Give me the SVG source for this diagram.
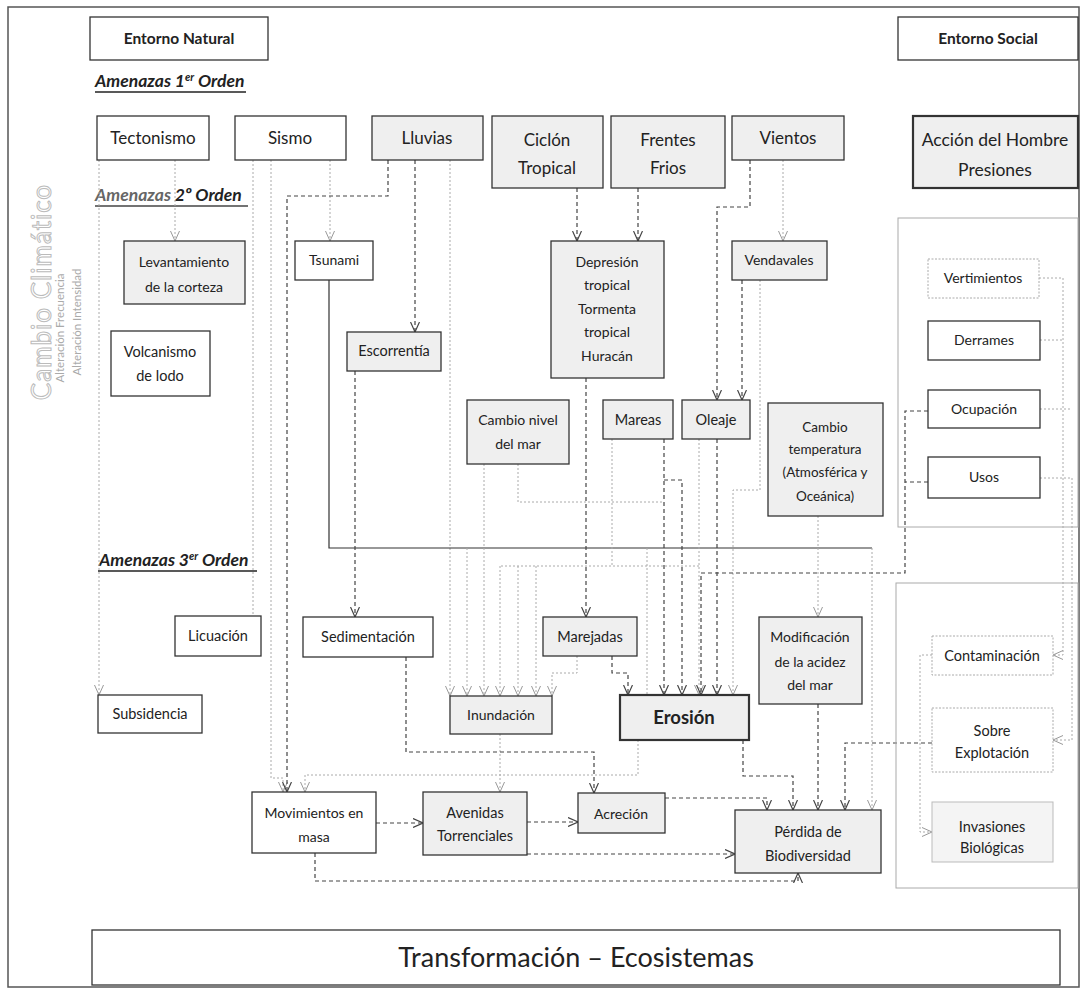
<svg xmlns="http://www.w3.org/2000/svg" width="1086" height="992" viewBox="0 0 1086 992">
<style>
text{font-family:"Lato","Open Sans",sans-serif;fill:#222;text-anchor:middle}
.bx{fill:#fff;stroke:#333;stroke-width:1.3}
.g{fill:#efefef;stroke:#333;stroke-width:1.3}
.th{stroke-width:2.2}
.lt{fill:#fff;stroke:#aaa;stroke-width:1;stroke-dasharray:2 1.5}
.grp{fill:none;stroke:#aaa;stroke-width:1}
.d{fill:none;stroke:#444;stroke-width:1.2;stroke-dasharray:4 3}
.l{fill:none;stroke:#aaa;stroke-width:1;stroke-dasharray:2 2}
.s{fill:none;stroke:#333;stroke-width:1.2}
.ad{marker-end:url(#md)}
.al{marker-end:url(#ml)}
.hd{font-weight:bold;font-style:italic;font-size:17.5px;text-anchor:start}
.t17{font-size:17px}.t15{font-size:14.5px}.t14{font-size:14px}.t13{font-size:13.5px}
</style>
<defs>
<marker id="md" viewBox="0 0 10 10" refX="10" refY="5" markerWidth="10" markerHeight="10" markerUnits="userSpaceOnUse" orient="auto"><path d="M0,0.5 L10,5 L0,9.5" fill="none" stroke="#444" stroke-width="1.2"/></marker>
<marker id="ml" viewBox="0 0 10 10" refX="10" refY="5" markerWidth="10" markerHeight="10" markerUnits="userSpaceOnUse" orient="auto"><path d="M0,0.5 L10,5 L0,9.5" fill="none" stroke="#999" stroke-width="1"/></marker>
</defs>
<rect x="0" y="0" width="1086" height="992" fill="#fff"/>
<rect x="8" y="7" width="1071" height="980" fill="none" stroke="#555" stroke-width="1.5"/>

<g id="cambio-climatico">
<text transform="translate(51,292) rotate(-90)" style="font-size:26px;fill:#fff;stroke:#bbb;stroke-width:1;letter-spacing:1px">Cambio Climático</text>
<text transform="translate(64,328) rotate(-90)" style="font-size:11.5px;fill:#aaa">Alteración Frecuencia</text>
<text transform="translate(81,322) rotate(-90)" style="font-size:11.5px;fill:#aaa">Alteración Intensidad</text>
</g>

<g id="headings">
<text class="hd" x="95" y="87">Amenazas 1<tspan font-size="11" dy="-6">er</tspan><tspan dy="6"> Orden</tspan></text>
<line x1="95" y1="92" x2="246" y2="92" stroke="#222" stroke-width="1.3"/>
<text class="hd" x="95" y="201"><tspan fill="#666">Amenazas</tspan>  2º Orden</text>
<line x1="95" y1="206" x2="248" y2="206" stroke="#444" stroke-width="1.3"/>
<text class="hd" x="99" y="566">Amenazas  3<tspan font-size="11" dy="-6">er</tspan><tspan dy="6"> Orden</tspan></text>
<line x1="98" y1="571" x2="257" y2="571" stroke="#222" stroke-width="1.3"/>
</g>

<g id="connectors">
<path class="l al" d="M99,160 V695"/>
<path class="l al" d="M175,160 V241"/>
<path class="l" d="M253,160 V616"/>
<path class="l al" d="M271,160 V778 H283 V792"/>
<path class="l al" d="M330,160 V241"/>
<path class="d ad" d="M388,160 V196 H287 V792"/>
<path class="d ad" d="M415,160 V332"/>
<path class="l al" d="M450,160 V696"/>
<path class="d ad" d="M577,188 V241"/>
<path class="d ad" d="M638,188 V241"/>
<path class="l al" d="M783,160 V241"/>
<path class="d ad" d="M750,160 V207 H717 V400"/>
<path class="d ad" d="M742,280 V400"/>
<path class="l al" d="M760,280 V490 H733 V695"/>
<path class="s" d="M329,280 V548 H872"/>
<path class="l al" d="M872,548 V810"/>
<path class="l al" d="M467,548 V696"/>
<path class="l" d="M647,548 V695"/>
<path class="d ad" d="M355,371 V617"/>
<path class="d ad" d="M586,378 V617"/>
<path class="l al" d="M484,464 V696"/>
<path class="l" d="M518,464 V502 H664"/>
<path class="d ad" d="M664,439 V695"/>
<path class="d ad" d="M664,480 H682 V695"/>
<path class="l" d="M612,439 V566"/>
<path class="l" d="M699,566 H500"/>
<path class="l al" d="M500,566 V696"/>
<path class="l al" d="M518,566 V696"/>
<path class="l al" d="M536,566 V696"/>
<path class="l al" d="M699,439 V695"/>
<path class="d ad" d="M717,439 V695"/>
<path class="l al" d="M818,516 V617"/>
<path class="d ad" d="M928,411 H905 V573 H701 V695"/>
<path class="d" d="M928,482 H905"/>
<path class="l al" d="M577,656 V673 H552 V696"/>
<path class="d ad" d="M612,656 V673 H628 V695"/>
<path class="l al" d="M500,734 V792"/>
<path class="l al" d="M638,740 V775 H305 V792"/>
<path class="d ad" d="M406,657 V752 H594 V793"/>
<path class="d ad" d="M376,823 H423"/>
<path class="d ad" d="M527,822 H578"/>
<path class="d ad" d="M527,854 H735"/>
<path class="d ad" d="M665,798 H767 V810"/>
<path class="d ad" d="M315,853 V881 H798 V873"/>
<path class="d ad" d="M743,740 V776 H793 V810"/>
<path class="d ad" d="M818,704 V810"/>
<path class="d ad" d="M932,743 H845 V810"/>
<path class="l al" d="M1039,278 H1063 V655 H1053"/>
<path class="l" d="M1040,340 H1063"/>
<path class="l" d="M1040,409 H1072"/>
<path class="l al" d="M1040,478 H1072 V740 H1053"/>
<path class="l al" d="M932,655 H920 V832 H932"/>
</g>

<g id="entorno-natural"><rect class="bx" x="90" y="17" width="178" height="43"/><text x="179" y="44" style="font-size:15.5px;font-weight:bold">Entorno  Natural</text></g>
<g id="entorno-social"><rect class="bx" x="898" y="17" width="180" height="43"/><text x="988" y="44" style="font-size:15.5px;font-weight:bold">Entorno Social</text></g>
<g id="tectonismo"><rect class="bx" x="97" y="116" width="112" height="44"/><text class="t17" x="153" y="144">Tectonismo</text></g>
<g id="sismo"><rect class="bx" x="235" y="116" width="111" height="44"/><text class="t17" x="290" y="144">Sismo</text></g>
<g id="lluvias"><rect class="g" x="372" y="116" width="111" height="44"/><text class="t17" x="427" y="144">Lluvias</text></g>
<g id="ciclon"><rect class="g" x="492" y="116" width="111" height="72"/><text class="t17" x="547" y="146">Ciclón</text><text class="t17" x="547" y="174">Tropical</text></g>
<g id="frentes"><rect class="g" x="611" y="116" width="114" height="72"/><text class="t17" x="668" y="146">Frentes</text><text class="t17" x="668" y="174">Frios</text></g>
<g id="vientos"><rect class="g" x="732" y="116" width="112" height="44"/><text class="t17" x="788" y="144">Vientos</text></g>
<g id="accion-hombre"><rect class="g th" x="913" y="116" width="165" height="72"/><text x="995" y="146" style="font-size:17.5px">Acción del Hombre</text><text x="995" y="176" style="font-size:17.5px">Presiones</text></g>
<g id="levantamiento"><rect class="g" x="124" y="241" width="121" height="63"/><text class="t14" x="184" y="267">Levantamiento</text><text class="t14" x="184" y="292">de la corteza</text></g>
<g id="tsunami"><rect class="bx" x="295" y="241" width="78" height="39"/><text class="t14" x="334" y="265">Tsunami</text></g>
<g id="volcanismo"><rect class="bx" x="111" y="331" width="99" height="65"/><text class="t15" x="160" y="357">Volcanismo</text><text class="t15" x="160" y="381">de lodo</text></g>
<g id="escorrentia"><rect class="g" x="347" y="332" width="94" height="39"/><text class="t15" x="394" y="356">Escorrentía</text></g>
<g id="depresion"><rect class="g" x="551" y="241" width="113" height="137"/><text class="t14" x="607" y="267">Depresión</text><text class="t14" x="607" y="290">tropical</text><text class="t14" x="607" y="314">Tormenta</text><text class="t14" x="607" y="337">tropical</text><text class="t14" x="607" y="361">Huracán</text></g>
<g id="vendavales"><rect class="g" x="732" y="241" width="95" height="39"/><text class="t14" x="779" y="265">Vendavales</text></g>
<g id="presiones-grupo"><rect class="grp" x="898" y="218" width="180" height="309"/></g>
<g id="vertimientos"><rect class="lt" x="928" y="259" width="111" height="39"/><text class="t14" x="983" y="283">Vertimientos</text></g>
<g id="derrames"><rect class="bx" x="928" y="321" width="112" height="39"/><text class="t14" x="984" y="345">Derrames</text></g>
<g id="ocupacion"><rect class="bx" x="928" y="390" width="112" height="38"/><text class="t14" x="984" y="414">Ocupación</text></g>
<g id="usos"><rect class="bx" x="928" y="457" width="112" height="41"/><text class="t14" x="984" y="482">Usos</text></g>
<g id="cambio-nivel"><rect class="g" x="467" y="400" width="102" height="64"/><text class="t14" x="518" y="425">Cambio nivel</text><text class="t14" x="518" y="449">del mar</text></g>
<g id="mareas"><rect class="g" x="603" y="400" width="70" height="39"/><text class="t15" x="638" y="425">Mareas</text></g>
<g id="oleaje"><rect class="g" x="682" y="400" width="68" height="39"/><text class="t15" x="716" y="425">Oleaje</text></g>
<g id="cambio-temperatura"><rect class="g" x="768" y="403" width="115" height="113"/><text class="t13" x="825" y="432">Cambio</text><text class="t13" x="825" y="454">temperatura</text><text class="t13" x="825" y="477">(Atmosférica y</text><text class="t13" x="825" y="501">Oceánica)</text></g>
<g id="licuacion"><rect class="bx" x="175" y="616" width="86" height="40"/><text class="t15" x="218" y="641">Licuación</text></g>
<g id="subsidencia"><rect class="bx" x="98" y="695" width="104" height="38"/><text class="t15" x="150" y="719">Subsidencia</text></g>
<g id="sedimentacion"><rect class="bx" x="303" y="617" width="130" height="40"/><text class="t15" x="368" y="642">Sedimentación</text></g>
<g id="marejadas"><rect class="g" x="543" y="617" width="94" height="39"/><text class="t15" x="590" y="642">Marejadas</text></g>
<g id="modificacion"><rect class="g" x="759" y="617" width="103" height="87"/><text class="t14" x="810" y="642">Modificación</text><text class="t14" x="810" y="667">de la acidez</text><text class="t14" x="810" y="690">del mar</text></g>
<g id="impactos-grupo"><rect class="grp" x="896" y="583" width="182" height="305"/></g>
<g id="contaminacion"><rect class="lt" x="932" y="636" width="121" height="39"/><text class="t15" x="992" y="661">Contaminación</text></g>
<g id="sobre-explotacion"><rect class="lt" x="932" y="708" width="121" height="64"/><text class="t15" x="992" y="736">Sobre</text><text class="t15" x="992" y="758">Explotación</text></g>
<g id="invasiones"><rect x="932" y="802" width="121" height="60" fill="#f4f4f4" stroke="#bbb" stroke-width="1"/><text class="t15" x="992" y="832">Invasiones</text><text class="t15" x="992" y="853">Biológicas</text></g>
<g id="inundacion"><rect class="g" x="450" y="696" width="102" height="38"/><text class="t14" x="501" y="720">Inundación</text></g>
<g id="erosion"><rect class="g th" x="620" y="695" width="129" height="45"/><text x="684" y="724" style="font-size:18.5px;font-weight:bold">Erosión</text></g>
<g id="movimientos"><rect class="bx" x="252" y="792" width="124" height="61"/><text class="t14" x="314" y="818">Movimientos en</text><text class="t14" x="314" y="842">masa</text></g>
<g id="avenidas"><rect class="g" x="423" y="792" width="104" height="63"/><text class="t15" x="475" y="818">Avenidas</text><text class="t15" x="475" y="841">Torrenciales</text></g>
<g id="acrecion"><rect class="g" x="578" y="793" width="87" height="40"/><text class="t14" x="621" y="819">Acreción</text></g>
<g id="perdida"><rect class="g" x="735" y="810" width="146" height="63"/><text class="t15" x="808" y="837">Pérdida de</text><text class="t15" x="808" y="861">Biodiversidad</text></g>
<g id="transformacion"><rect class="bx" x="92" y="930" width="968" height="55"/><text x="576" y="967" style="font-size:27px">Transformación – Ecosistemas</text></g>
</svg>
